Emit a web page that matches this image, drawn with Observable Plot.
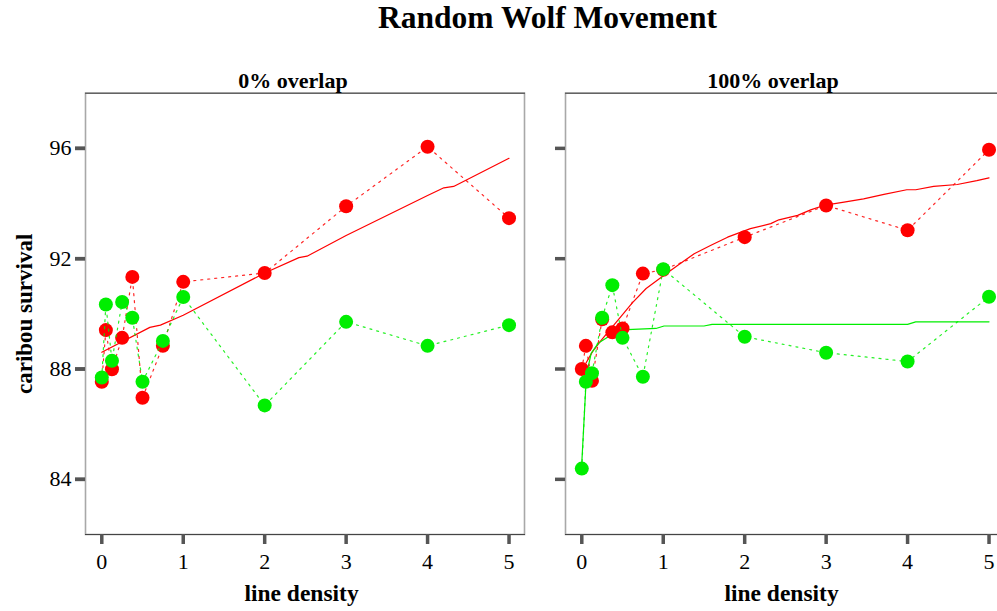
<!DOCTYPE html>
<html>
<head>
<meta charset="utf-8">
<script src="https://cdn.jsdelivr.net/npm/d3@7"></script>
<script src="https://cdn.jsdelivr.net/npm/@observablehq/plot@0.6"></script>
<style>
  body { margin: 0; background: #fff; overflow: hidden; }
  #wrap { position: relative; width: 997px; height: 611px; overflow: hidden; }
  #title {
    position: absolute; left: 0; top: 2px; width: 1095px; text-align: center;
    font: bold 31.5px "Liberation Serif", "Times New Roman", serif; line-height: 31.5px; color: #000;
  }
  #chart { position: absolute; left: 0; top: 0; width: 1010px; }
  #chart svg { max-width: none !important; }
</style>
</head>
<body>
<div id="wrap">
  <div id="chart"></div>
  <div id="title">Random Wolf Movement</div>
</div>
<script>
// Panels (wolf/caribou range overlap) and the line densities sampled in each
const panels = ["0% overlap", "100% overlap"];
const density = [0, 0.05, 0.125, 0.25, 0.375, 0.5, 0.75, 1, 2, 3, 4, 5];

// Caribou survival (%) per line density
const redNoOverlap     = [87.54, 89.41, 87.99, 89.13, 91.34, 86.96, 88.84, 91.16, 91.48, 93.90, 96.06, 93.47];
const greenNoOverlap   = [87.69, 90.34, 88.30, 90.43, 89.86, 87.54, 89.02, 90.61, 86.68, 89.71, 88.84, 89.59];
const redFullOverlap   = [88.00, 88.84, 87.57, 89.80, 89.33, 89.47, 91.46, 91.60, 92.78, 93.93, 93.03, 95.95];
const greenFullOverlap = [84.39, 87.54, 87.85, 89.86, 91.04, 89.13, 87.72, 91.62, 89.17, 88.59, 88.27, 90.62];

// Fitted trends
const fitRedNoX   = [0, 0.59, 0.72, 1, 2, 2.42, 2.52, 3, 4, 4.2, 4.32, 5];
const fitRedNoY   = [88.61, 89.51, 89.59, 89.95, 91.48, 92.04, 92.09, 92.84, 94.29, 94.57, 94.62, 95.64];
const fitRedFullX = [0.05, 0.13, 0.24, 0.36, 0.48, 0.62, 0.79, 1.01, 1.18, 1.38, 1.58, 1.79, 2.07, 2.32, 2.42, 2.65, 2.81, 2.97, 3.22, 3.46, 3.71, 3.99, 4.1, 4.32, 4.61, 4.85, 5];
const fitRedFullY = [88.21, 88.62, 89.05, 89.47, 89.9, 90.4, 90.92, 91.40, 91.76, 92.18, 92.48, 92.78, 93.09, 93.27, 93.41, 93.57, 93.77, 93.93, 94.05, 94.17, 94.33, 94.50, 94.50, 94.62, 94.69, 94.83, 94.93];
const fitGreenFullX = [0, 0.05, 0.07, 0.115, 0.2, 0.36, 0.56, 0.91, 1.01, 1.5, 1.6, 4.0, 4.1, 5];
const fitGreenFullY = [84.59, 87.4, 87.96, 88.57, 88.93, 89.23, 89.43, 89.47, 89.56, 89.56, 89.62, 89.62, 89.71, 89.71];

// Axis ticks
const xTicks = [0, 1, 2, 3, 4, 5];
const yTicks = [84, 88, 92, 96];

const RED = "#ff0000";
const GREEN = "#00ee00";

const series = (panel, xs, ys) => xs.map((x, i) => ({panel, x, y: ys[i]}));

const red = [...series(panels[0], density, redNoOverlap), ...series(panels[1], density, redFullOverlap)];
const green = [...series(panels[0], density, greenNoOverlap), ...series(panels[1], density, greenFullOverlap)];
const fitRed = [...series(panels[0], fitRedNoX, fitRedNoY).map(d => ({...d, k: "a"})), ...series(panels[1], fitRedFullX, fitRedFullY).map(d => ({...d, k: "b"}))];
const fitGreen = series(panels[1], fitGreenFullX, fitGreenFullY);

const tickStyle = {stroke: "#555", strokeWidth: 3.5, tickSize: 10};

const chart = Plot.plot({
  width: 1010,
  height: 611,
  marginLeft: 84.3,
  marginRight: 5,
  marginTop: 92.7,
  marginBottom: 77,
  style: {fontFamily: "'Liberation Serif', 'Times New Roman', serif", fontSize: "22px", color: "#000", background: "#fff", maxWidth: "none"},
  fx: {domain: panels, paddingInner: 0.0846, paddingOuter: 0, axis: null, label: null},
  x: {domain: [-0.2, 5.19], label: null},
  y: {domain: [82, 98], label: null},
  marks: [
    Plot.frame({stroke: "#a8a8a8", strokeWidth: 1.6}),
    Plot.frame({anchor: "top", stroke: "#444", strokeWidth: 1}),
    Plot.frame({anchor: "bottom", stroke: "#444", strokeWidth: 1}),
    Plot.axisY({...tickStyle, ticks: yTicks, facetAnchor: null, tickFormat: () => "", label: null}),
    Plot.axisY({...tickStyle, ticks: yTicks, tickPadding: 4, fill: "#000", fontSize: 22, tickFormat: d3.format("d"), label: null}),
    Plot.axisX({...tickStyle, ticks: xTicks, tickPadding: 9, fill: "#000", fontSize: 22, tickFormat: d3.format("d"), label: null}),

    // fitted trends
    Plot.line(fitRed, {x: "x", y: "y", z: "k", fx: "panel", stroke: RED, strokeWidth: 1.2}),
    Plot.line(fitGreen, {x: "x", y: "y", fx: "panel", stroke: GREEN, strokeWidth: 1.2}),

    // observed values, joined by dotted lines
    Plot.line(red, {x: "x", y: "y", fx: "panel", stroke: RED, strokeWidth: 1.2, strokeDasharray: "2,5", strokeOpacity: 0.85}),
    Plot.dot(red, {x: "x", y: "y", fx: "panel", r: 7, fill: RED, stroke: null}),
    Plot.line(green, {x: "x", y: "y", fx: "panel", stroke: GREEN, strokeWidth: 1.2, strokeDasharray: "2,5", strokeOpacity: 0.85}),
    Plot.dot(green, {x: "x", y: "y", fx: "panel", r: 7, fill: GREEN, stroke: null}),

    // panel titles and axis titles
    Plot.text(panels, {fx: d => d, text: d => d, frameAnchor: "top", lineAnchor: "middle", dy: -12.7, dx: -12, fontWeight: "bold", fontSize: 22}),
    Plot.text(panels, {fx: d => d, text: () => "line density", frameAnchor: "bottom", lineAnchor: "middle", dy: 59, dx: -3.5, fontWeight: "bold", fontSize: 23.5}),
    Plot.text([panels[0]], {fx: d => d, text: () => "caribou survival", frameAnchor: "left", textAnchor: "middle", lineAnchor: "middle", rotate: -90, dx: -61, fontWeight: "bold", fontSize: 23})
  ]
});

document.getElementById("chart").appendChild(chart);
</script>
</body>
</html>
